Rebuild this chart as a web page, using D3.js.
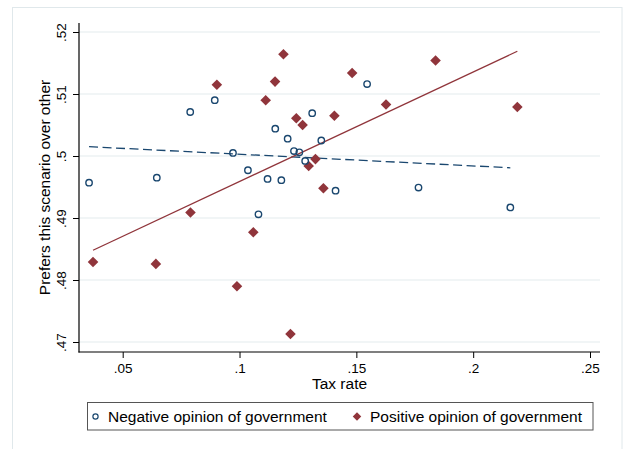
<!DOCTYPE html>
<html>
<head>
<meta charset="utf-8">
<script src="https://cdn.jsdelivr.net/npm/d3@7"></script>
<style>
  html, body { margin: 0; padding: 0; background: #ffffff; }
  svg { display: block; }
  text { font-family: "Liberation Sans", Arial, Helvetica, sans-serif; fill: #000; }
</style>
</head>
<body>
<div id="chart"></div>
<script>
// ---- Data ----
const taxNeg  = [0.0356, 0.0646, 0.0789, 0.0894, 0.0972, 0.1036, 0.1081, 0.1120, 0.1153, 0.1179,
                 0.1206, 0.1233, 0.1256, 0.1281, 0.1311, 0.1350, 0.1411, 0.1546, 0.1766, 0.2159];
const prefNeg = [0.4957, 0.4965, 0.5071, 0.5090, 0.5005, 0.4977, 0.4906, 0.4963, 0.5044, 0.4961,
                 0.5028, 0.5008, 0.5006, 0.4992, 0.5069, 0.5025, 0.4944, 0.5116, 0.4949, 0.4917];
const taxPos  = [0.0373, 0.0642, 0.0790, 0.0903, 0.0989, 0.1059, 0.1112, 0.1152, 0.1188, 0.1218,
                 0.1243, 0.1270, 0.1296, 0.1325, 0.1359, 0.1406, 0.1482, 0.1627, 0.1839, 0.2189];
const prefPos = [0.4829, 0.4826, 0.4909, 0.5115, 0.4790, 0.4877, 0.5090, 0.5120, 0.5164, 0.4713,
                 0.5061, 0.5050, 0.4984, 0.4995, 0.4948, 0.5065, 0.5134, 0.5083, 0.5154, 0.5079];
// Linear fit lines (endpoints)
const fitNegX = [0.0356, 0.2159];
const fitNegY = [0.5015, 0.4981];
const fitPosX = [0.0373, 0.2189];
const fitPosY = [0.4848, 0.5169];
// Axis ticks and labels
const xTicks = [0.05, 0.10, 0.15, 0.20, 0.25];
const xTickLabels = [".05", ".1", ".15", ".2", ".25"];
const yTicks = [0.47, 0.48, 0.49, 0.50, 0.51, 0.52];
const yTickLabels = [".47", ".48", ".49", ".5", ".51", ".52"];
const xTitle = "Tax rate";
const yTitle = "Prefers this scenario over other";
const seriesNames = ["Negative opinion of government", "Positive opinion of government"];

// ---- Layout ----
const W = 624, H = 449;
const navy = "#1a476f", maroon = "#90353b", grid = "#e3ebee", frame = "#e0e8eb";
const plot = { left: 79, right: 600, top: 23, bottom: 352 };

const svg = d3.select("#chart").append("svg").attr("width", W).attr("height", H);

svg.append("rect").attr("x", 12.5).attr("y", 7.5).attr("width", 609.5).attr("height", 460)
  .attr("fill", "#ffffff").attr("stroke", frame).attr("stroke-width", 1);

const x = d3.scaleLinear().domain([0.05, 0.25]).range([122.7, 590]);
const y = d3.scaleLinear().domain([0.47, 0.52]).range([342, 32]);

// Gridlines
svg.append("g").selectAll("line").data(yTicks).join("line")
  .attr("x1", plot.left).attr("x2", plot.right)
  .attr("y1", d => y(d)).attr("y2", d => y(d))
  .attr("stroke", grid).attr("stroke-width", 1.2);

// Y axis
const yAxis = d3.axisLeft(y).tickValues(yTicks).tickSize(6)
  .tickFormat((d, i) => yTickLabels[i]);
const gy = svg.append("g").attr("transform", `translate(${plot.left},0)`).call(yAxis);
gy.select(".domain").remove();
gy.selectAll(".tick line").attr("stroke", "#000").attr("stroke-width", 1);
gy.selectAll(".tick text")
  .attr("font-size", "13.5px")
  .attr("text-anchor", "middle")
  .attr("x", null).attr("dy", null)
  .attr("transform", "translate(-13.5,0) rotate(-90)")
  .attr("y", 0);
svg.append("line").attr("x1", plot.left).attr("x2", plot.left)
  .attr("y1", plot.top).attr("y2", plot.bottom + 0.5)
  .attr("stroke", "#000").attr("stroke-width", 1.2);

// X axis
const xAxis = d3.axisBottom(x).tickValues(xTicks).tickSize(6)
  .tickFormat((d, i) => xTickLabels[i]);
const gx = svg.append("g").attr("transform", `translate(0,${plot.bottom})`).call(xAxis);
gx.select(".domain").remove();
gx.selectAll(".tick line").attr("stroke", "#000").attr("stroke-width", 1);
gx.selectAll(".tick text").attr("font-size", "13.5px").attr("dy", null).attr("y", 20.7);
svg.append("line").attr("x1", plot.left - 0.5).attr("x2", plot.right)
  .attr("y1", plot.bottom).attr("y2", plot.bottom)
  .attr("stroke", "#000").attr("stroke-width", 1.2);

// Axis titles
svg.append("text").attr("x", (plot.left + plot.right) / 2).attr("y", 389)
  .attr("text-anchor", "middle").attr("font-size", "15.5px").text(xTitle);
svg.append("text")
  .attr("transform", `translate(50,${(plot.top + plot.bottom) / 2}) rotate(-90)`)
  .attr("text-anchor", "middle").attr("font-size", "15.5px").text(yTitle);

// Fit lines
const line = d3.line().x(d => x(d[0])).y(d => y(d[1]));
svg.append("path").datum(d3.zip(fitNegX, fitNegY)).attr("d", line)
  .attr("fill", "none").attr("stroke", navy).attr("stroke-width", 1.3)
  .attr("stroke-dasharray", "9,4.5");
svg.append("path").datum(d3.zip(fitPosX, fitPosY)).attr("d", line)
  .attr("fill", "none").attr("stroke", maroon).attr("stroke-width", 1.3);

// Points
const diamond = d3.symbol().type(d3.symbolSquare).size(56);
svg.append("g").selectAll("path").data(d3.zip(taxPos, prefPos)).join("path")
  .attr("d", diamond)
  .attr("transform", d => `translate(${x(d[0])},${y(d[1])}) rotate(45)`)
  .attr("fill", maroon);
svg.append("g").selectAll("circle").data(d3.zip(taxNeg, prefNeg)).join("circle")
  .attr("cx", d => x(d[0])).attr("cy", d => y(d[1])).attr("r", 3.2)
  .attr("fill", "none").attr("stroke", navy).attr("stroke-width", 1.4);

// Legend
const lg = svg.append("g");
lg.append("rect").attr("x", 87.5).attr("y", 402.5).attr("width", 505.5).attr("height", 27.5)
  .attr("fill", "#fff").attr("stroke", "#555").attr("stroke-width", 1);
lg.append("circle").attr("cx", 95.5).attr("cy", 416.5).attr("r", 2.6)
  .attr("fill", "none").attr("stroke", navy).attr("stroke-width", 1.2);
lg.append("text").attr("x", 108).attr("y", 422).attr("font-size", "15.5px").text(seriesNames[0]);
lg.append("path").attr("d", d3.symbol().type(d3.symbolSquare).size(36))
  .attr("transform", "translate(357,416.5) rotate(45)").attr("fill", maroon);
lg.append("text").attr("x", 370).attr("y", 422).attr("font-size", "15.5px").text(seriesNames[1]);
</script>
</body>
</html>
